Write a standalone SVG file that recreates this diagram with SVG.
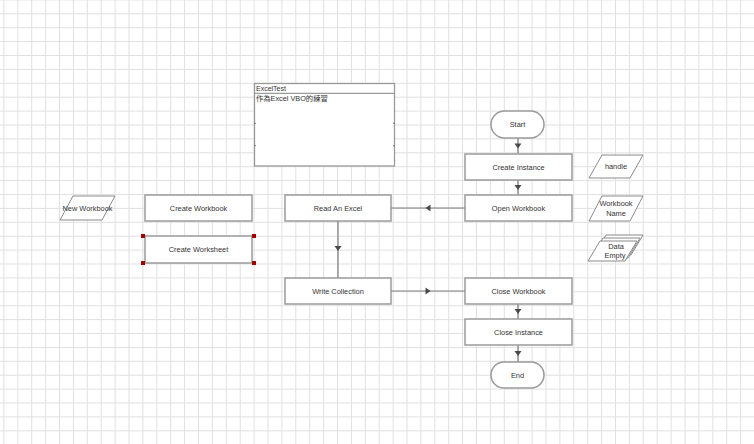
<svg xmlns="http://www.w3.org/2000/svg" width="754" height="444" viewBox="0 0 754 444">
<style>
text{font-family:"Liberation Sans","Noto Sans CJK TC",sans-serif;font-size:7.4px;fill:#333}
.c{text-anchor:middle}
.box{fill:#fff;stroke:#9a9a9a;stroke-width:1.5}
.para{fill:#fff;stroke:#8a8a8a;stroke-width:1}
.conn{fill:none;stroke:#7a7a7a;stroke-width:1.2;marker-mid:url(#arr)}
.hd{fill:#a00000}
</style>
<defs>
<pattern id="grid" patternUnits="userSpaceOnUse" x="3.4" y="-0.6" width="13.9" height="13.9">
<path d="M0.5,0 V13.9 M0,0.5 H13.9" fill="none" stroke="#e0e0e0" stroke-width="1"/>
</pattern>
<marker id="arr" markerUnits="userSpaceOnUse" markerWidth="8" markerHeight="8" viewBox="-4 -4 8 8" refX="0" refY="0" orient="auto">
<path d="M-2.5,-3.5 L2.5,0 L-2.5,3.5 z" fill="#4a4a4a"/>
</marker>
</defs>
<rect width="754" height="444" fill="#fff"/>
<rect width="754" height="444" fill="url(#grid)"/>

<g id="connectors">
<path class="conn" d="M518,138 L518,146 L518,154"/>
<path class="conn" d="M518,180 L518,187.5 L518,195"/>
<path class="conn" d="M465,208 L428,208 L391,208"/>
<path class="conn" d="M338,221 L338,248.5 L338,278"/>
<path class="conn" d="M391,291 L428,291 L465,291"/>
<path class="conn" d="M518,304 L518,311.5 L518,319"/>
<path class="conn" d="M518,345 L518,353.5 L518,362"/>
</g>

<g id="note">
<rect x="254.5" y="83.5" width="140" height="82.5" fill="#fff" stroke="#9a9a9a" stroke-width="1.3"/>
<line x1="254.5" y1="93.3" x2="394.5" y2="93.3" stroke="#9a9a9a" stroke-width="1.2"/>
<path d="M254,123.3 h2 M254,145.7 h2 M393,123.3 h2 M393,145.7 h2" stroke="#777" stroke-width="1"/>
<text x="256" y="91.3" style="font-size:7px">ExcelTest</text>
<text x="256" y="100.8" style="font-size:7.3px">作為Excel VBO的練習</text>
</g>

<g id="start">
<rect class="box" x="491" y="111" width="53" height="27" rx="13.5"/>
<text class="c" x="517.5" y="127">Start</text>
</g>
<g id="create-instance">
<rect class="box" x="465" y="154" width="107" height="26"/>
<text class="c" x="518.5" y="169.6">Create Instance</text>
</g>
<g id="open-workbook">
<rect class="box" x="465" y="195" width="107" height="26"/>
<text class="c" x="518.5" y="210.6">Open Workbook</text>
</g>
<g id="read-an-excel">
<rect class="box" x="285" y="195" width="106" height="26"/>
<text class="c" x="338" y="210.6">Read An Excel</text>
</g>
<g id="write-collection">
<rect class="box" x="285" y="278" width="106" height="26"/>
<text class="c" x="338" y="293.6">Write Collection</text>
</g>
<g id="close-workbook">
<rect class="box" x="465" y="278" width="107" height="26"/>
<text class="c" x="518.5" y="293.6">Close Workbook</text>
</g>
<g id="close-instance">
<rect class="box" x="465" y="319" width="107" height="26"/>
<text class="c" x="518.5" y="334.6">Close Instance</text>
</g>
<g id="end">
<rect class="box" x="491" y="362" width="53" height="26" rx="13"/>
<text class="c" x="517.5" y="377.6">End</text>
</g>
<g id="create-workbook">
<rect class="box" x="145" y="195" width="107" height="26"/>
<text class="c" x="198.5" y="210.6">Create Workbook</text>
</g>
<g id="create-worksheet">
<rect class="box" x="145" y="236" width="107" height="27"/>
<text class="c" x="198.5" y="252.1">Create Worksheet</text>
<rect class="hd" x="141" y="234" width="4" height="4"/>
<rect class="hd" x="252" y="234" width="4" height="4"/>
<rect class="hd" x="141" y="261" width="4" height="4"/>
<rect class="hd" x="252" y="261" width="4" height="4"/>
</g>
<g id="new-workbook">
<polygon class="para" points="73,196 115,196 102,220 60,220"/>
<text class="c" x="87.5" y="210.6">New Workbook</text>
</g>
<g id="handle">
<polygon class="para" points="602,155 643,155 630,178 589,178"/>
<text class="c" x="616" y="169.2">handle</text>
</g>
<g id="workbook-name">
<polygon class="para" points="602,196 643,196 630,221 589,221"/>
<text class="c" x="616" y="205.5">Workbook</text>
<text class="c" x="616" y="216">Name</text>
</g>
<g id="data-empty">
<polygon class="para" points="606,235 643,235 631,255 594,255"/>
<polygon class="para" points="603,238 640,238 628,258 591,258"/>
<polygon class="para" points="600,241 637,241 625,261 588,261"/>
<text class="c" x="616" y="248.5">Data</text>
<text class="c" x="615" y="258">Empty</text>
</g>
</svg>
